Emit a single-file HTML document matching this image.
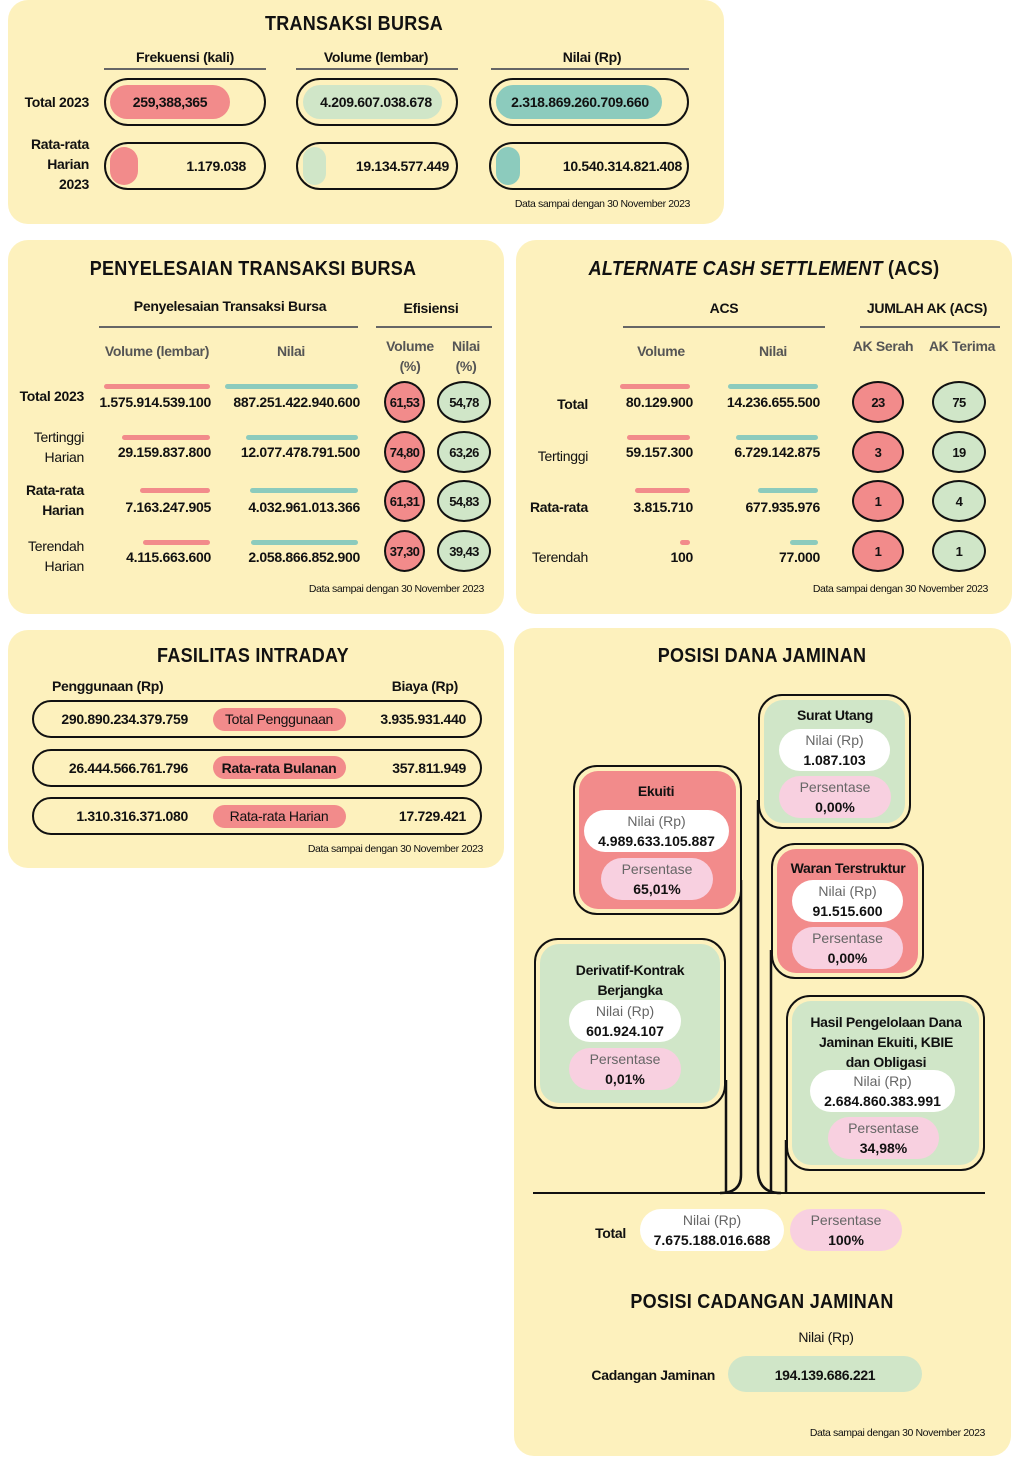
<!DOCTYPE html><html><head><meta charset="utf-8"><style>
*{margin:0;padding:0;box-sizing:border-box}
body{width:1013px;height:1457px;background:#fff;position:relative;overflow:hidden;font-family:"Liberation Sans Narrow","Liberation Sans",sans-serif;color:#111}
.p{position:absolute;background:#fdf1bd;border-radius:20px}
.a{position:absolute}
.t{position:absolute;white-space:nowrap;line-height:18px;font-size:14px;letter-spacing:-0.3px}
.c{transform:translate(-50%,-50%);text-align:center}
.r{transform:translate(-100%,-50%);text-align:right}
.l{transform:translateY(-50%)}
.b{font-weight:bold}
.h{font-size:20px;font-weight:bold;letter-spacing:0.3px;font-family:"Liberation Sans",sans-serif;transform:translate(-50%,-50%) scaleX(0.9)}
.g{color:#555}
.fn{font-size:10.5px;letter-spacing:-0.4px}
.ul{position:absolute;height:2px;background:#666}
.red{background:#f28b8b}.grn{background:#d0e6c8}.teal{background:#8ccbbd}.pink{background:#f8d0e0}.wht{background:#fff}
.ob{position:absolute;border:2.5px solid #111;border-radius:25px}
.pill{position:absolute;border-radius:22px}
.bar{position:absolute;height:5px;border-radius:3px}
.cir{position:absolute;border:2px solid #111;border-radius:50%;display:flex;align-items:center;justify-content:center;font-size:13px;font-weight:bold;letter-spacing:-0.6px}
.box{position:absolute;border:2.5px solid #111;border-radius:24px;background:#fdf1bd;padding:4px}
.box>div{width:100%;height:100%;border-radius:19px}
.two{font-size:14px;line-height:20px;text-align:center;display:flex;flex-direction:column;justify-content:center}
.two .g1{color:#666}
.two .v{font-weight:bold;color:#111}
</style></head><body>

<!-- Panel 1 -->
<div class="p" style="left:8px;top:0;width:716px;height:224px"></div>
<div class="t h" style="left:354px;top:24px">TRANSAKSI BURSA</div>
<div class="t c b" style="left:185px;top:57px">Frekuensi (kali)</div>
<div class="t c b" style="left:376px;top:57px">Volume (lembar)</div>
<div class="t c b" style="left:592px;top:57px">Nilai (Rp)</div>
<div class="ul" style="left:104px;top:68px;width:162px"></div>
<div class="ul" style="left:296px;top:68px;width:162px"></div>
<div class="ul" style="left:491px;top:68px;width:198px"></div>
<div class="t r b" style="left:89px;top:102px">Total 2023</div>
<div class="t r b" style="left:89px;top:144px">Rata-rata</div>
<div class="t r b" style="left:89px;top:164px">Harian</div>
<div class="t r b" style="left:89px;top:184px">2023</div>
<div class="ob" style="left:104px;top:78px;width:162px;height:48px"></div>
<div class="pill red" style="left:110px;top:85px;width:120px;height:34px"></div>
<div class="t c b" style="left:170px;top:102px">259,388,365</div>
<div class="ob" style="left:296px;top:78px;width:162px;height:48px"></div>
<div class="pill grn" style="left:303px;top:85px;width:139px;height:34px"></div>
<div class="t c b" style="left:376px;top:102px">4.209.607.038.678</div>
<div class="ob" style="left:489px;top:78px;width:200px;height:48px"></div>
<div class="pill teal" style="left:496px;top:85px;width:166px;height:34px"></div>
<div class="t c b" style="left:580px;top:102px">2.318.869.260.709.660</div>
<div class="ob" style="left:104px;top:142px;width:162px;height:48px"></div>
<div class="pill red" style="left:110px;top:147px;width:28px;height:38px"></div>
<div class="t r b" style="left:246px;top:166px">1.179.038</div>
<div class="ob" style="left:296px;top:142px;width:162px;height:48px"></div>
<div class="pill grn" style="left:303px;top:147px;width:23px;height:38px"></div>
<div class="t r b" style="left:449px;top:166px">19.134.577.449</div>
<div class="ob" style="left:489px;top:142px;width:200px;height:48px"></div>
<div class="pill teal" style="left:496px;top:147px;width:24px;height:38px"></div>
<div class="t r b" style="left:682px;top:166px">10.540.314.821.408</div>
<div class="t r fn" style="left:690px;top:204px">Data sampai dengan 30 November 2023</div>

<!-- Panel 2 -->
<div class="p" style="left:8px;top:240px;width:496px;height:374px"></div>
<div class="t h" style="left:253px;top:269px">PENYELESAIAN TRANSAKSI BURSA</div>
<div class="t c b" style="left:230px;top:306px">Penyelesaian Transaksi Bursa</div>
<div class="t c b" style="left:431px;top:308px">Efisiensi</div>
<div class="ul" style="left:99px;top:326px;width:259px"></div>
<div class="ul" style="left:376px;top:326px;width:116px"></div>
<div class="t c b g" style="left:157px;top:351px">Volume (lembar)</div>
<div class="t c b g" style="left:291px;top:351px">Nilai</div>
<div class="t c b g" style="left:410px;top:346px">Volume</div>
<div class="t c b g" style="left:410px;top:366px">(%)</div>
<div class="t c b g" style="left:466px;top:346px">Nilai</div>
<div class="t c b g" style="left:466px;top:366px">(%)</div>

<div class="t r b" style="left:84px;top:396px">Total 2023</div>
<div class="t r" style="left:84px;top:437px">Tertinggi</div><div class="t r" style="left:84px;top:457px">Harian</div>
<div class="t r b" style="left:84px;top:490px">Rata-rata</div><div class="t r b" style="left:84px;top:510px">Harian</div>
<div class="t r" style="left:84px;top:546px">Terendah</div><div class="t r" style="left:84px;top:566px">Harian</div>

<div class="bar red" style="left:104px;top:384px;width:106px"></div>
<div class="bar teal" style="left:225px;top:384px;width:133px"></div>
<div class="bar red" style="left:122px;top:435px;width:88px"></div>
<div class="bar teal" style="left:246px;top:435px;width:112px"></div>
<div class="bar red" style="left:140px;top:488px;width:70px"></div>
<div class="bar teal" style="left:250px;top:488px;width:108px"></div>
<div class="bar red" style="left:143px;top:540px;width:67px"></div>
<div class="bar teal" style="left:251px;top:540px;width:107px"></div>

<div class="t r b" style="left:211px;top:402px">1.575.914.539.100</div>
<div class="t r b" style="left:360px;top:402px">887.251.422.940.600</div>
<div class="t r b" style="left:211px;top:452px">29.159.837.800</div>
<div class="t r b" style="left:360px;top:452px">12.077.478.791.500</div>
<div class="t r b" style="left:211px;top:507px">7.163.247.905</div>
<div class="t r b" style="left:360px;top:507px">4.032.961.013.366</div>
<div class="t r b" style="left:211px;top:557px">4.115.663.600</div>
<div class="t r b" style="left:360px;top:557px">2.058.866.852.900</div>

<div class="cir red" style="left:384px;top:381px;width:41px;height:42px">61,53</div>
<div class="cir grn" style="left:437px;top:381px;width:54px;height:42px">54,78</div>
<div class="cir red" style="left:384px;top:431px;width:41px;height:42px">74,80</div>
<div class="cir grn" style="left:437px;top:431px;width:54px;height:42px">63,26</div>
<div class="cir red" style="left:384px;top:480px;width:41px;height:42px">61,31</div>
<div class="cir grn" style="left:437px;top:480px;width:54px;height:42px">54,83</div>
<div class="cir red" style="left:384px;top:530px;width:41px;height:42px">37,30</div>
<div class="cir grn" style="left:437px;top:530px;width:54px;height:42px">39,43</div>
<div class="t r fn" style="left:484px;top:589px">Data sampai dengan 30 November 2023</div>

<!-- Panel 3 -->
<div class="p" style="left:516px;top:240px;width:496px;height:374px"></div>
<div class="t h" style="left:764px;top:269px"><i>ALTERNATE CASH SETTLEMENT</i> (ACS)</div>
<div class="t c b" style="left:724px;top:308px">ACS</div>
<div class="t c b" style="left:927px;top:308px">JUMLAH AK (ACS)</div>
<div class="ul" style="left:623px;top:326px;width:202px"></div>
<div class="ul" style="left:860px;top:326px;width:140px"></div>
<div class="t c b g" style="left:661px;top:351px">Volume</div>
<div class="t c b g" style="left:773px;top:351px">Nilai</div>
<div class="t c b g" style="left:883px;top:346px">AK Serah</div>
<div class="t c b g" style="left:962px;top:346px">AK Terima</div>

<div class="t r b" style="left:588px;top:404px">Total</div>
<div class="t r" style="left:588px;top:456px">Tertinggi</div>
<div class="t r b" style="left:588px;top:507px">Rata-rata</div>
<div class="t r" style="left:588px;top:557px">Terendah</div>

<div class="bar red" style="left:620px;top:384px;width:70px"></div>
<div class="bar teal" style="left:728px;top:384px;width:90px"></div>
<div class="bar red" style="left:627px;top:435px;width:63px"></div>
<div class="bar teal" style="left:736px;top:435px;width:82px"></div>
<div class="bar red" style="left:635px;top:488px;width:55px"></div>
<div class="bar teal" style="left:758px;top:488px;width:60px"></div>
<div class="bar red" style="left:680px;top:540px;width:10px"></div>
<div class="bar teal" style="left:790px;top:540px;width:28px"></div>

<div class="t r b" style="left:693px;top:402px">80.129.900</div>
<div class="t r b" style="left:820px;top:402px">14.236.655.500</div>
<div class="t r b" style="left:693px;top:452px">59.157.300</div>
<div class="t r b" style="left:820px;top:452px">6.729.142.875</div>
<div class="t r b" style="left:693px;top:507px">3.815.710</div>
<div class="t r b" style="left:820px;top:507px">677.935.976</div>
<div class="t r b" style="left:693px;top:557px">100</div>
<div class="t r b" style="left:820px;top:557px">77.000</div>

<div class="cir red" style="left:852px;top:381px;width:52px;height:42px">23</div>
<div class="cir grn" style="left:932px;top:381px;width:54px;height:42px">75</div>
<div class="cir red" style="left:852px;top:431px;width:52px;height:42px">3</div>
<div class="cir grn" style="left:932px;top:431px;width:54px;height:42px">19</div>
<div class="cir red" style="left:852px;top:480px;width:52px;height:42px">1</div>
<div class="cir grn" style="left:932px;top:480px;width:54px;height:42px">4</div>
<div class="cir red" style="left:852px;top:530px;width:52px;height:42px">1</div>
<div class="cir grn" style="left:932px;top:530px;width:54px;height:42px">1</div>
<div class="t r fn" style="left:988px;top:589px">Data sampai dengan 30 November 2023</div>

<!-- Panel 4 -->
<div class="p" style="left:8px;top:630px;width:496px;height:238px"></div>
<div class="t h" style="left:253px;top:656px">FASILITAS INTRADAY</div>
<div class="t l b" style="left:52px;top:686px">Penggunaan (Rp)</div>
<div class="t r b" style="left:458px;top:686px">Biaya (Rp)</div>
<div class="ob" style="left:32px;top:700px;width:450px;height:38px;border-width:2px"></div>
<div class="ob" style="left:32px;top:749px;width:450px;height:38px;border-width:2px"></div>
<div class="ob" style="left:32px;top:797px;width:450px;height:38px;border-width:2px"></div>
<div class="pill red" style="left:213px;top:708px;width:133px;height:23px"></div>
<div class="pill red" style="left:213px;top:756px;width:133px;height:23px"></div>
<div class="pill red" style="left:213px;top:805px;width:133px;height:23px"></div>
<div class="t c" style="left:279px;top:719px">Total Penggunaan</div>
<div class="t c b" style="left:279px;top:768px">Rata-rata Bulanan</div>
<div class="t c" style="left:279px;top:816px">Rata-rata Harian</div>
<div class="t r b" style="left:188px;top:719px">290.890.234.379.759</div>
<div class="t r b" style="left:188px;top:768px">26.444.566.761.796</div>
<div class="t r b" style="left:188px;top:816px">1.310.316.371.080</div>
<div class="t r b" style="left:466px;top:719px">3.935.931.440</div>
<div class="t r b" style="left:466px;top:768px">357.811.949</div>
<div class="t r b" style="left:466px;top:816px">17.729.421</div>
<div class="t r fn" style="left:483px;top:849px">Data sampai dengan 30 November 2023</div>

<!-- Panel 5 -->
<div class="p" style="left:514px;top:628px;width:497px;height:828px"></div>
<div class="t h" style="left:762px;top:656px">POSISI DANA JAMINAN</div>
<svg class="a" style="left:0;top:0" width="1013" height="1457">
<g fill="none" stroke="#111" stroke-width="2.5">
<path d="M741 880 L741 1175 Q741 1193 720 1193"/>
<path d="M726 1080 L726 1193"/>
<path d="M758 800 L758 1170 Q758 1193 781 1193"/>
<path d="M771 950 L771 1193"/>
<path d="M786 1140 L786 1193"/>
<path d="M533 1193 L985 1193" stroke-width="2"/>
</g></svg>

<div class="box" style="left:758px;top:694px;width:153px;height:135px"><div class="grn"></div></div>
<div class="t c b" style="left:835px;top:715px">Surat Utang</div>
<div class="pill wht two" style="left:779px;top:729px;width:111px;height:42px"><span class="g1">Nilai (Rp)</span><span class="v">1.087.103</span></div>
<div class="pill pink two" style="left:779px;top:776px;width:112px;height:42px"><span class="g1">Persentase</span><span class="v">0,00%</span></div>

<div class="box" style="left:573px;top:765px;width:169px;height:150px"><div class="red"></div></div>
<div class="t c b" style="left:656px;top:791px">Ekuiti</div>
<div class="pill wht two" style="left:584px;top:810px;width:145px;height:42px"><span class="g1">Nilai (Rp)</span><span class="v">4.989.633.105.887</span></div>
<div class="pill pink two" style="left:601px;top:858px;width:112px;height:42px"><span class="g1">Persentase</span><span class="v">65,01%</span></div>

<div class="box" style="left:771px;top:843px;width:153px;height:136px"><div class="red"></div></div>
<div class="t c b" style="left:848px;top:868px">Waran Terstruktur</div>
<div class="pill wht two" style="left:792px;top:880px;width:111px;height:42px"><span class="g1">Nilai (Rp)</span><span class="v">91.515.600</span></div>
<div class="pill pink two" style="left:792px;top:927px;width:111px;height:42px"><span class="g1">Persentase</span><span class="v">0,00%</span></div>

<div class="box" style="left:534px;top:938px;width:192px;height:171px"><div class="grn"></div></div>
<div class="t c b" style="left:630px;top:970px">Derivatif-Kontrak</div>
<div class="t c b" style="left:630px;top:990px">Berjangka</div>
<div class="pill wht two" style="left:569px;top:1000px;width:112px;height:42px"><span class="g1">Nilai (Rp)</span><span class="v">601.924.107</span></div>
<div class="pill pink two" style="left:569px;top:1048px;width:112px;height:42px"><span class="g1">Persentase</span><span class="v">0,01%</span></div>

<div class="box" style="left:786px;top:995px;width:199px;height:176px"><div class="grn"></div></div>
<div class="t c b" style="left:886px;top:1022px">Hasil Pengelolaan Dana</div>
<div class="t c b" style="left:886px;top:1042px">Jaminan Ekuiti, KBIE</div>
<div class="t c b" style="left:886px;top:1062px">dan Obligasi</div>
<div class="pill wht two" style="left:810px;top:1070px;width:145px;height:42px"><span class="g1">Nilai (Rp)</span><span class="v">2.684.860.383.991</span></div>
<div class="pill pink two" style="left:828px;top:1117px;width:111px;height:42px"><span class="g1">Persentase</span><span class="v">34,98%</span></div>

<div class="t r b" style="left:626px;top:1233px">Total</div>
<div class="pill wht two" style="left:640px;top:1209px;width:144px;height:42px"><span class="g1">Nilai (Rp)</span><span class="v">7.675.188.016.688</span></div>
<div class="pill pink two" style="left:790px;top:1209px;width:112px;height:42px"><span class="g1">Persentase</span><span class="v">100%</span></div>

<div class="t h" style="left:762px;top:1302px">POSISI CADANGAN JAMINAN</div>
<div class="t c" style="left:826px;top:1337px">Nilai (Rp)</div>
<div class="t r b" style="left:715px;top:1375px">Cadangan Jaminan</div>
<div class="pill grn" style="left:728px;top:1356px;width:194px;height:36px"></div>
<div class="t c b" style="left:825px;top:1375px">194.139.686.221</div>
<div class="t r fn" style="left:985px;top:1433px">Data sampai dengan 30 November 2023</div>
</body></html>
